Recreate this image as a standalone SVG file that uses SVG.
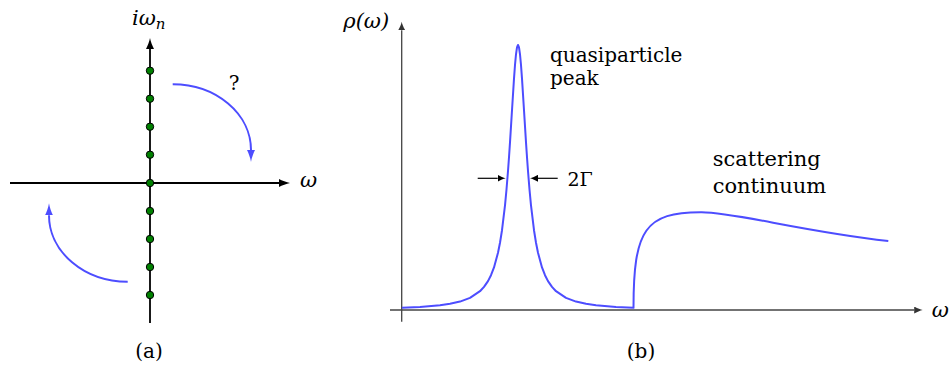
<svg xmlns="http://www.w3.org/2000/svg" width="949" height="370" viewBox="0 0 949 370">
<style>
.lbl{font-family:"DejaVu Serif","Liberation Serif",serif;fill:#000}
.math{font-family:"DejaVu Serif","Liberation Serif",serif;font-style:italic;fill:#000}
.axA{stroke:#000;stroke-width:1.8;fill:none}
.axB{stroke:#444;stroke-width:1.3;fill:none}
.blue{stroke:#4d4dff;stroke-width:2;fill:none;stroke-linejoin:round}
.dot{fill:#008000;stroke:#000;stroke-width:1}
.dim{stroke:#000;stroke-width:1.2;fill:none}
</style>
<defs>
<marker id="hA" markerUnits="userSpaceOnUse" markerWidth="11" markerHeight="8" refX="0" refY="4" orient="auto">
<path d="M11,4 C7.5,4.6 3,6.5 0,8 L0,0 C3,1.5 7.5,3.4 11,4 Z" fill="#000"/>
</marker>
<marker id="hB" markerUnits="userSpaceOnUse" markerWidth="9" markerHeight="7" refX="0" refY="3.5" orient="auto">
<path d="M8.5,3.5 C6,4 2.5,5.5 0,7 L0,0 C2.5,1.5 6,3 8.5,3.5 Z" fill="#333"/>
</marker>
<marker id="hBlue" markerUnits="userSpaceOnUse" markerWidth="12" markerHeight="8" refX="0" refY="4" orient="auto">
<path d="M12,4 C8,4.6 3,6.5 0,8 L0,0 C3,1.5 8,3.4 12,4 Z" fill="#4d4dff"/>
</marker>
<marker id="hS" markerUnits="userSpaceOnUse" markerWidth="8" markerHeight="7" refX="0" refY="3.5" orient="auto">
<path d="M8,3.5 C5.5,4 2.5,5.5 0,7 L0,0 C2.5,1.5 5.5,3 8,3.5 Z" fill="#000"/>
</marker>
</defs>

<g id="panel-a">
  <g id="axes-a">
    <path class="axA" d="M10 183 H279" marker-end="url(#hA)"/>
    <path class="axA" d="M150 323 V49" marker-end="url(#hA)"/>
  </g>
  <g id="matsubara-points">
    <circle class="dot" cx="150" cy="70.7" r="3.7"/>
    <circle class="dot" cx="150" cy="98.7" r="3.7"/>
    <circle class="dot" cx="150" cy="126.7" r="3.7"/>
    <circle class="dot" cx="150" cy="154.7" r="3.7"/>
    <circle class="dot" cx="150" cy="183" r="3.7"/>
    <circle class="dot" cx="150" cy="211" r="3.7"/>
    <circle class="dot" cx="150" cy="239" r="3.7"/>
    <circle class="dot" cx="150" cy="267" r="3.7"/>
    <circle class="dot" cx="150" cy="295" r="3.7"/>
  </g>
  <g id="connectors">
    <path class="blue" d="M172.7 84.3 A78.3 65.7 0 0 1 251 150" marker-end="url(#hBlue)"/>
    <path class="blue" d="M127.7 281.7 A78.7 66.4 0 0 1 49 215.3" marker-end="url(#hBlue)"/>
  </g>
  <text id="label-iwn" class="math" x="132" y="25" font-size="21">iω<tspan font-size="15" dy="4">n</tspan></text>
  <text id="label-w-a" class="math" x="300" y="187" font-size="21">ω</text>
  <text id="label-q" class="lbl" x="234" y="90" font-size="20" text-anchor="middle">?</text>
  <text id="caption-a" class="lbl" x="149" y="358" font-size="20" text-anchor="middle">(a)</text>
</g>

<g id="panel-b">
  <g id="axes-b">
    <path class="axB" d="M401.7 321.7 V30.2" marker-end="url(#hB)"/>
    <path class="axB" d="M390 310 H914.2" marker-end="url(#hB)"/>
  </g>
  <path id="spectral-curve" class="blue" d="M402 307.85 L420 306.99 L440 305.28 L450 303.83 L460 301.59 L470 297.9 L480 291.2 L484 286.93 L488 281.08 L491 275.19 L494 267.42 L498 252.74 L500 242.72 L502 230.23 L505 205.4 L506.5 189.52 L508 171.04 L509 157.24 L510 142.33 L512 110.23 L514 78.58 L515 65 L516 54.28 L517 47.38 L518 45 L519 47.38 L520 54.28 L521 65 L522 78.58 L524 110.23 L526 142.33 L527 157.24 L528 171.04 L529.5 189.52 L531 205.4 L534 230.23 L536 242.72 L538 252.74 L542 267.42 L545 275.19 L548 281.08 L552 286.93 L556 291.2 L566 297.9 L576 301.59 L586 303.83 L596 305.28 L616 306.99 L633.5 307.83 C633.5 230 645 212 701.7 212.3 C735 212.3 800 231 888.3 241"/>
  <g id="width-marker">
    <path class="dim" d="M477.7 178.3 H497.7" marker-end="url(#hS)"/>
    <path class="dim" d="M557.7 178.3 H538" marker-end="url(#hS)"/>
    <text class="lbl" x="567.5" y="186" font-size="19">2Γ</text>
  </g>
  <text id="label-rho" class="math" x="343.3" y="27.5" font-size="21">ρ(ω)</text>
  <text id="label-w-b" class="math" x="931.7" y="316.5" font-size="21">ω</text>
  <g id="label-peak">
    <text class="lbl" x="550" y="62" font-size="20">quasiparticle</text>
    <text class="lbl" x="550" y="84.5" font-size="20">peak</text>
  </g>
  <g id="label-continuum">
    <text class="lbl" x="712.7" y="166" font-size="21">scattering</text>
    <text class="lbl" x="712.7" y="192.5" font-size="21">continuum</text>
  </g>
  <text id="caption-b" class="lbl" x="641" y="358" font-size="20" text-anchor="middle">(b)</text>
</g>
</svg>
